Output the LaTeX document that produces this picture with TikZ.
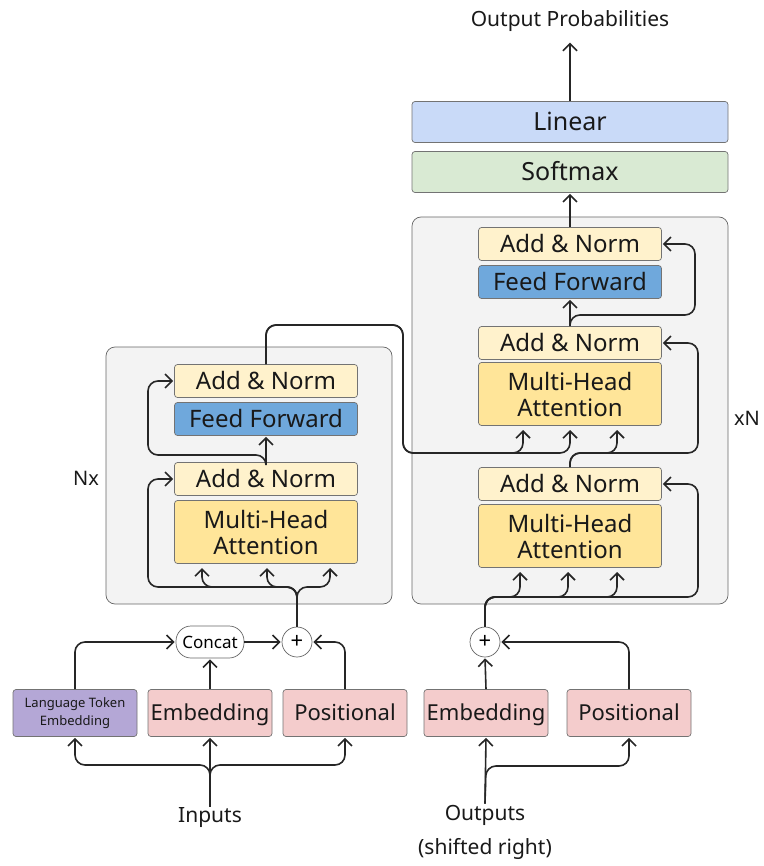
\documentclass[tikz,border=0pt]{standalone}
\usepackage{fontspec}
\setmainfont{Noto Sans}
\usetikzlibrary{arrows.meta}
\definecolor{stackfill}{HTML}{F3F3F3}
\definecolor{normfill}{HTML}{FFF2CC}
\definecolor{fffill}{HTML}{6FA8DC}
\definecolor{mhafill}{HTML}{FFE599}
\definecolor{embfill}{HTML}{F4CCCC}
\definecolor{langfill}{HTML}{B4A7D6}
\definecolor{linfill}{HTML}{C9DAF8}
\definecolor{softfill}{HTML}{D9EAD3}
\tikzset{
  stack/.style={draw=black!60, line width=0.7pt, fill=stackfill, rounded corners=9pt},
  blk/.style={draw=black!55, line width=0.7pt, rounded corners=3pt, inner sep=0pt,
    align=center, font=\fontsize{24}{26}\selectfont, text=black!90,
    minimum width=183pt, minimum height=33pt},
  oneline/.style={text height=16.5pt, text depth=0pt},
  addnorm/.style={blk, oneline, fill=normfill},
  ff/.style={blk, oneline, fill=fffill},
  mha/.style={blk, fill=mhafill, minimum height=63pt},
  emb/.style={blk, fill=embfill, font=\fontsize{22}{26}\selectfont,
    text height=15.5pt, text depth=0pt, minimum width=124pt, minimum height=47pt},
  head/.style={blk, font=\fontsize{25}{26}\selectfont, text height=17.5pt, text depth=0pt,
    minimum width=316pt, minimum height=41pt},
  pill/.style={draw=black!60, line width=0.7pt, fill=white, rounded corners=15pt,
    minimum width=68pt, minimum height=32pt, inner sep=0pt, font=\fontsize{17}{18}\selectfont},
  sumnode/.style={circle, draw=black!60, line width=0.7pt, fill=white, minimum size=30pt,
    inner sep=0pt, font=\fontsize{22}{22}\selectfont},
  txt/.style={inner sep=1pt, text=black!90, font=\fontsize{20}{24}\selectfont},
  wire/.style={line width=1.6pt, draw=black!85, rounded corners=10pt, shorten >=1pt,
    -{Straight Barb[length=7pt,width=14pt,line width=1.6pt]}},
}
\begin{document}
\begin{tikzpicture}[x=1pt,y=-1pt]
\useasboundingbox (0,0) rectangle (763,866);
\draw[stack] (106,347) rectangle (392,604);
\draw[stack] (412,217) rectangle (728,604);

\node[addnorm] (encnormB) at (266,381) {Add \& Norm};
\node[ff] (encff) at (266,419) {Feed Forward};
\node[addnorm] (encnormA) at (266,479) {Add \& Norm};
\node[mha] (encmha) at (266,532) {Multi-Head\\Attention};
\node[txt] (nx) at (86,478) {Nx};

\node[addnorm] (decnormC) at (570,244) {Add \& Norm};
\node[ff] (decff) at (570,282) {Feed Forward};
\node[addnorm] (decnormB) at (570,343) {Add \& Norm};
\node[mha] (decmhaB) at (570,394) {Multi-Head\\Attention};
\node[addnorm] (decnormA) at (570,484) {Add \& Norm};
\node[mha] (decmhaA) at (570,536) {Multi-Head\\Attention};
\node[txt] (xn) at (747,418) {xN};

\node[head, fill=softfill] (softmax) at (570,172) {Softmax};
\node[head, fill=linfill] (linear) at (570,122) {Linear};
\node[txt, font=\fontsize{21}{24}\selectfont] (outprob) at (570,21) {Output Probabilities};

\node[blk, fill=langfill, font=\fontsize{13}{18}\selectfont, minimum width=124pt, minimum height=47pt] (langemb) at (75,713) {Language Token\\Embedding};
\node[emb] (encemb) at (210,713) {Embedding};
\node[emb] (encpos) at (345,713) {Positional};
\node[pill] (concat) at (210,642) {Concat};
\node[sumnode] (encsum) at (297,642) {+};
\node[txt, font=\fontsize{21}{24}\selectfont] (inputs) at (210,818) {Inputs};

\node[emb] (decemb) at (486,713) {Embedding};
\node[emb] (decpos) at (629,713) {Positional};
\node[sumnode] (decsum) at (485,642) {+};
\node[txt, align=center, font=\fontsize{21}{34}\selectfont] (outputs) at (485,832) {Outputs\\(shifted right)};

\draw[wire] (inputs.north) -- (encemb.south);
\draw[wire] (inputs.north) -- (210,765) -- (75,765) -- (langemb.south);
\draw[wire] (inputs.north) -- (210,765) -- (345,765) -- (encpos.south);
\draw[wire] (langemb.north) |- (concat.west);
\draw[wire] (encemb.north) -- (concat.south);
\draw[wire] (concat.east) -- (encsum.west);
\draw[wire] (encpos.north) |- (encsum.east);

\draw[wire] (outputs.north) -- (decemb.south);
\draw[wire] (outputs.north) -- (486,766) -- (629,766) -- (decpos.south);
\draw[wire] (decemb.north) -- (decsum.south);
\draw[wire] (decpos.north) |- (decsum.east);

\foreach \x in {202,267,330}
  \draw[wire] (encsum.north) -- (297,587) -- (\x,587) -- (\x,567);
\draw[wire] (encsum.north) -- (297,587) -- (148,587) |- (encnormA.west);
\draw[wire] (encnormA.north) -- (encff.south);
\draw[wire] (encnormA.north) -- (266,455) -- (148,455) |- (encnormB.west);
\foreach \x in {523,570}
  \draw[wire] (encnormB.north) -- (266,325) -- (403,325) -- (403,453) -- (\x,453) -- (\x,429);

\foreach \x in {520,568,617}
  \draw[wire] (decsum.north) -- (485,597) -- (\x,597) -- (\x,571);
\draw[wire] (decsum.north) -- (485,597) -- (698,597) |- (decnormA.east);
\draw[wire] (decnormA.north) -- (570,453) -- (617,453) -- (617,429);
\draw[wire] (decnormA.north) -- (570,453) -- (698,453) |- (decnormB.east);
\draw[wire] (decnormB.north) -- (decff.south);
\draw[wire] (decnormB.north) -- (570,315) -- (695,315) |- (decnormC.east);
\draw[wire] (decnormC.north) -- (softmax.south);
\draw[wire, shorten >=10pt] (linear.north) -- (outprob.south);
\end{tikzpicture}
\end{document}
